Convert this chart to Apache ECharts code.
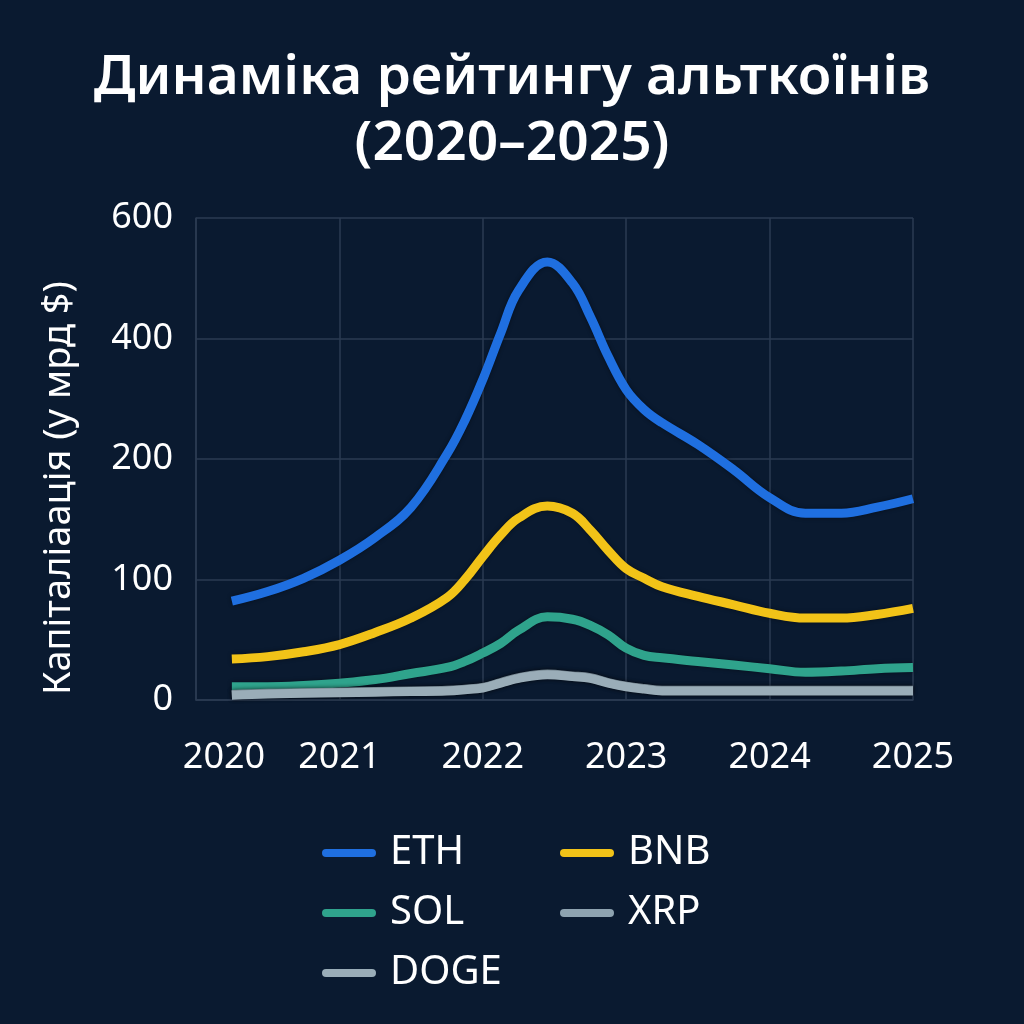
<!DOCTYPE html>
<html>
<head>
<meta charset="utf-8">
<title>Динаміка рейтингу альткоїнів</title>
<script src="https://cdn.jsdelivr.net/npm/echarts@6/dist/echarts.min.js"></script>
<style>
html,body{margin:0;padding:0;background:#0a1a30;}
#main{width:1024px;height:1024px;}
</style>
</head>
<body>
<div id="main"></div>
<script>
// роки (точки, довкола піку частіше)
const years = [2020.25, 2020.5, 2020.75, 2021.0, 2021.25, 2021.5, 2021.75, 2021.875, 2022.0, 2022.125,
               2022.25, 2022.45, 2022.625, 2022.75, 2022.875, 2023.0, 2023.125, 2023.25, 2023.5,
               2023.75, 2024.0, 2024.25, 2024.5, 2024.75, 2025.0];
// капіталізація, млрд $
const eth  = [82, 90, 101, 116, 135, 160, 208, 264, 332, 409, 480, 527, 492, 436, 370, 315, 282, 260, 224, 191, 168, 155, 155, 160, 167];
const bnb  = [34, 36, 40, 46, 56, 68, 85, 100, 119, 137, 151, 161, 155, 141, 124, 109, 101, 94, 86, 79, 72, 68, 68, 71, 76];
const sol  = [11, 11, 12, 14, 17, 22, 27, 32, 39, 47, 58, 69, 67, 62, 54, 43, 37, 35, 32, 29, 26, 23, 24, 26, 27];
const xrp  = [4.5, 5.5, 6, 6.5, 7, 7.5, 8, 9, 10.5, 14.5, 18.5, 21.5, 20, 18.5, 14.5, 11.5, 9.5, 8, 8, 8, 8, 8, 8, 8, 8];
const doge = [4, 5, 5.5, 6, 6.5, 7, 7.5, 8.5, 10, 14, 18, 21, 19.5, 18, 14, 11, 9, 7.5, 7.5, 7.5, 7.5, 7.5, 7.5, 7.5, 7.5];
const yTicks = [0, 100, 200, 400, 600];
const xTicks = [2020, 2021, 2022, 2023, 2024, 2025];

const gridColor = '#2b3b52';
const font = 'Noto Sans';

// вісь Y нерівномірна: 0,100,200,400,600 стоять на однаковій відстані
const toAxis = v => {
    for (let i = 0; i < yTicks.length - 1; i++) {
        if (v <= yTicks[i + 1]) return i + (v - yTicks[i]) / (yTicks[i + 1] - yTicks[i]);
    }
    return yTicks.length - 1;
};

const setSeriesItem = (name, data, color) => {
    return {
        name: name,
        type: 'line',
        smooth: 0.4,
        showSymbol: false,
        color: color,
        lineStyle: {
            width: 9,
            color: color,
            shadowColor: 'rgba(0,0,0,0.45)',
            shadowBlur: 4
        },
        data: data.map((v, i) => [years[i], toAxis(v)])
    };
};

const legendItem = (left, names) => ({
    orient: 'vertical',
    left: left,
    top: 828,
    itemWidth: 54,
    itemHeight: 9,
    itemGap: 20,
    icon: 'path://M4,0 H50 A4,4 0 0 1 50,8 H4 A4,4 0 0 1 4,0 Z',
    textStyle: {color: '#ffffff', fontSize: 40, fontFamily: font, padding: [0, 0, 0, 9]},
    data: names
});

const chart = echarts.init(document.getElementById('main'));
chart.setOption({
    backgroundColor: '#0a1a30',
    animation: false,
    title: {
        text: 'Динаміка рейтингу альткоїнів\n(2020–2025)',
        left: 'center',
        top: 40,
        textStyle: {color: '#ffffff', fontSize: 55, fontWeight: 600, lineHeight: 66, fontFamily: font}
    },
    legend: [
        legendItem(317, ['ETH', 'SOL', 'DOGE']),
        legendItem(555, ['BNB', 'XRP'])
    ],
    grid: {left: 196, right: 111, top: 218, bottom: 324, containLabel: false},
    xAxis: {
        type: 'value',
        min: xTicks[0],
        max: xTicks[xTicks.length - 1],
        interval: 1,
        axisLine: {show: true, lineStyle: {color: gridColor, width: 1.5}},
        axisTick: {show: false},
        splitLine: {show: true, lineStyle: {color: gridColor, width: 1.5}},
        axisLabel: {
            color: '#ffffff',
            fontSize: 36,
            fontFamily: font,
            margin: 40,
            formatter: v => v === xTicks[0] ? '{first|' + v + '}' : String(v),
            rich: {first: {color: '#ffffff', fontSize: 36, fontFamily: font, padding: [0, 0, 0, 56]}}
        }
    },
    yAxis: {
        type: 'value',
        min: 0,
        max: yTicks.length - 1,
        interval: 1,
        name: 'Капіталіаація (у мрд $)',
        nameLocation: 'middle',
        nameRotate: 90,
        nameGap: 118,
        nameTextStyle: {color: '#ffffff', fontSize: 38, fontFamily: font, padding: [0, 58, 0, 0]},
        axisLine: {show: true, lineStyle: {color: gridColor, width: 1.5}},
        axisTick: {show: false},
        splitLine: {show: true, lineStyle: {color: gridColor, width: 1.5}},
        axisLabel: {
            color: '#ffffff',
            fontSize: 36,
            fontFamily: font,
            margin: 23,
            formatter: v => String(yTicks[v])
        }
    },
    series: [
        setSeriesItem('ETH', eth, '#1f6fe0'),
        setSeriesItem('BNB', bnb, '#f2c318'),
        setSeriesItem('SOL', sol, '#2fa38c'),
        setSeriesItem('XRP', xrp, '#8ea3b0'),
        setSeriesItem('DOGE', doge, '#9aadb8')
    ]
});
</script>
</body>
</html>
